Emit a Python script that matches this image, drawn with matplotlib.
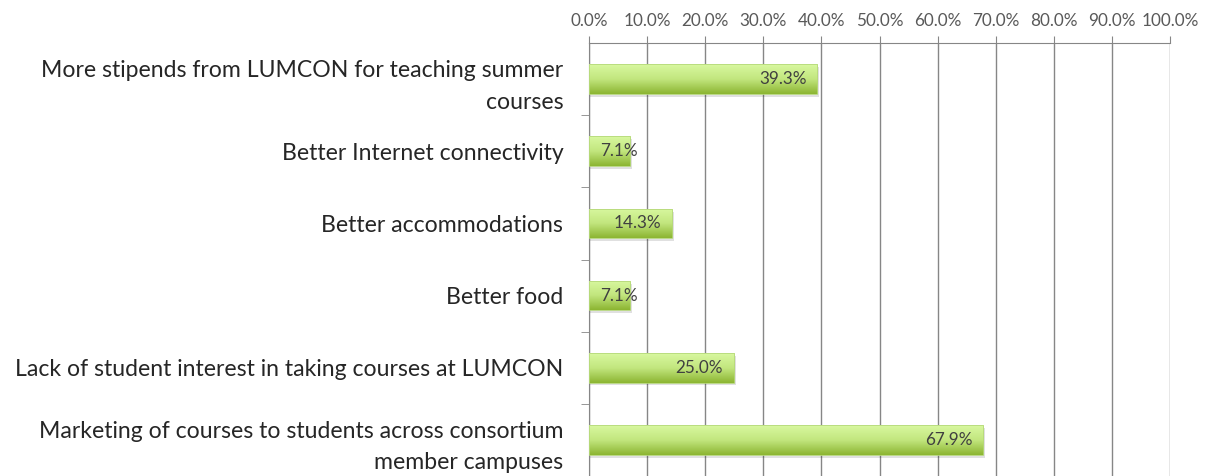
import matplotlib
matplotlib.use("Agg")
import matplotlib.pyplot as plt
import numpy as np
from matplotlib.colors import LinearSegmentedColormap
from matplotlib.patches import Rectangle

plt.rcParams['font.family'] = ['Lato', 'DejaVu Sans']

# data
categories = [
    "More stipends from LUMCON for teaching summer\ncourses",
    "Better Internet connectivity",
    "Better accommodations",
    "Better food",
    "Lack of student interest in taking courses at LUMCON",
    "Marketing of courses to students across consortium\nmember campuses",
]
values = [39.3, 7.1, 14.3, 7.1, 25.0, 67.9]
value_labels = ["39.3%", "7.1%", "14.3%", "7.1%", "25.0%", "67.9%"]
tick_values = [0, 10, 20, 30, 40, 50, 60, 70, 80, 90, 100]
tick_labels = ["%.1f%%" % t for t in tick_values]

W, H = 1217, 476
fig = plt.figure(figsize=(W / 100, H / 100), dpi=100)
ax = fig.add_axes([589 / W, 0, (1170 - 589) / W, (H - 43) / H])

grad = LinearSegmentedColormap.from_list("g", ["#d8f8a0", "#c2e67e", "#8cb532"])
bar_h = 0.41
ypos = np.arange(len(values))

for y, v in zip(ypos, values):
    # shadow
    sh = Rectangle((0.25, y - bar_h / 2 + 0.04), v, bar_h, color="#000000",
                   alpha=0.12, lw=0, zorder=2)
    ax.add_patch(sh)
    rect = Rectangle((0, y - bar_h / 2), v, bar_h, facecolor="none",
                     edgecolor="#b5d87a", lw=0.6, zorder=4)
    ax.add_patch(rect)
    img = ax.imshow(np.linspace(0, 1, 100).reshape(-1, 1),
                    extent=(0, v, y + bar_h / 2, y - bar_h / 2),
                    cmap=grad, aspect="auto", zorder=3)
    img.set_clip_path(rect)

ax.set_xlim(0, 100)
ax.set_ylim(len(values) - 0.5, -0.5)

# value labels
px_per_unit = (1170 - 589) / 100
for y, v, lab in zip(ypos, values, value_labels):
    if v * px_per_unit < 70:
        ax.annotate(lab, (0, y), xytext=(11, 0), textcoords="offset pixels",
                    ha="left", va="center", fontsize=12.3, color="#404040", zorder=5)
    else:
        ax.annotate(lab, (v, y), xytext=(-11, 0), textcoords="offset pixels",
                    ha="right", va="center", fontsize=12.3, color="#404040", zorder=5)

# x axis on top
ax.xaxis.tick_top()
ax.set_xticks(tick_values)
ax.set_xticklabels(tick_labels, fontsize=12.3, color="#595959")
ax.tick_params(axis="x", direction="out", length=5, color="#868686", pad=5)
ax.grid(axis="x", color="#868686", lw=1, zorder=0)
ax.set_axisbelow(True)

# y axis
ax.set_yticks(ypos)
ax.set_yticklabels(categories, fontsize=16.6, color="#262626", linespacing=1.62)
ax.set_yticks(np.arange(len(values) - 1) + 0.5, minor=True)
ax.tick_params(axis="y", which="major", length=0, pad=18.5)
ax.tick_params(axis="y", which="minor", length=6, color="#868686", direction="out")

for s in ["right", "bottom"]:
    ax.spines[s].set_visible(False)
ax.spines["left"].set_color("#868686")
ax.spines["top"].set_color("#868686")

fig.savefig("out.png", dpi=100)
